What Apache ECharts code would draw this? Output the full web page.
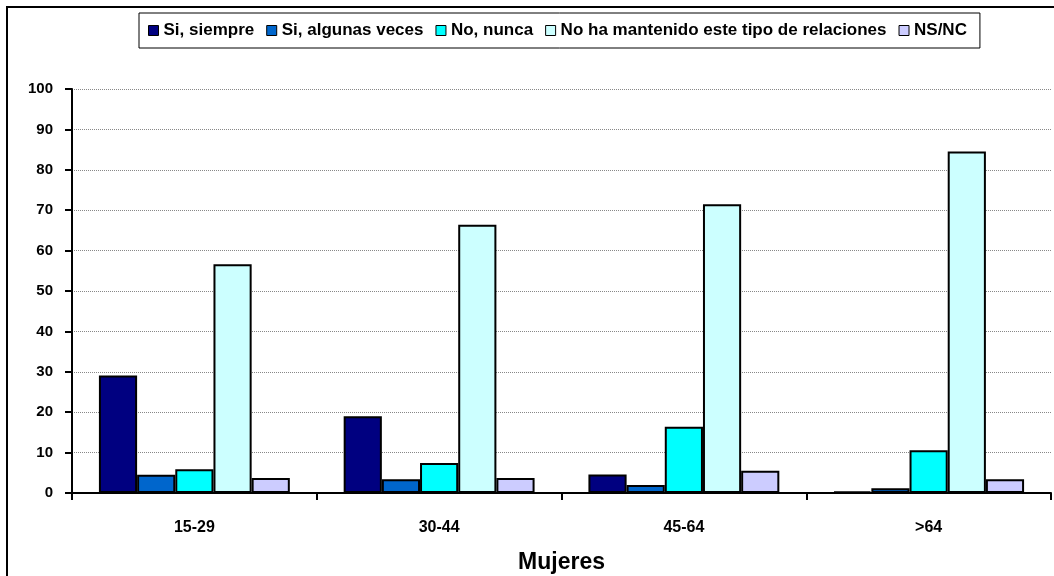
<!DOCTYPE html>
<html>
<head>
<meta charset="utf-8">
<style>
  html, body { margin: 0; padding: 0; background: #fff; }
  #chart { width: 1054px; height: 576px; }
</style>
<script src="https://cdn.jsdelivr.net/npm/echarts@6/dist/echarts.min.js"></script>
</head>
<body>
<div id="chart"></div>
<script>
// Age groups on the category axis
const categories = ['15-29', '30-44', '45-64', '>64'];

// Percentages per answer
const siSiempre = [29.1, 19.0, 4.6, 0.4];
const siAlgunasVeces = [4.5, 3.4, 2.0, 1.2];
const noNunca = [5.9, 7.4, 16.4, 10.6];
const noHaMantenido = [56.6, 66.4, 71.5, 84.5];
const nsnc = [3.7, 3.7, 5.5, 3.4];

const seriesNames = ['Si, siempre', 'Si, algunas veces', 'No, nunca',
  'No ha mantenido este tipo de relaciones', 'NS/NC'];
const seriesData = [siSiempre, siAlgunasVeces, noNunca, noHaMantenido, nsnc];
const colors = ['#000080', '#0066CC', '#00FFFF', '#CCFFFF', '#CCCCFF'];

const yTicks = [0, 10, 20, 30, 40, 50, 60, 70, 80, 90, 100];

const FONT = '"Liberation Sans", Arial, sans-serif';

const chart = echarts.init(document.getElementById('chart'), null, { renderer: 'canvas' });

chart.setOption({
  animation: false,
  backgroundColor: '#ffffff',
  color: colors,
  graphic: [{
    type: 'rect',
    z: -10,
    shape: { x: 7, y: 7, width: 1200, height: 700 },
    style: { fill: 'none', stroke: '#000', lineWidth: 2 }
  }],
  legend: {
    left: 139,
    top: 13,
    padding: [9, 13, 9, 9],
    itemGap: 12,
    itemWidth: 10,
    itemHeight: 10,
    icon: 'rect',
    borderColor: '#000',
    borderWidth: 1,
    backgroundColor: '#fff',
    itemStyle: { borderColor: '#000', borderWidth: 1 },
    textStyle: { fontFamily: FONT, fontWeight: 'bold', fontSize: 17, color: '#000' },
    data: seriesNames
  },
  grid: { left: 72, right: 3, top: 89, bottom: 83, containLabel: false, outerBoundsMode: 'none' },
  xAxis: {
    type: 'category',
    data: categories,
    boundaryGap: true,
    name: 'Mujeres',
    nameLocation: 'middle',
    nameGap: 58,
    nameTextStyle: { fontFamily: FONT, fontWeight: 'bold', fontSize: 23, color: '#000' },
    axisLine: { lineStyle: { color: '#000', width: 2 } },
    axisTick: { show: true, alignWithLabel: false, length: 7, lineStyle: { color: '#000', width: 2 } },
    axisLabel: { fontFamily: FONT, fontWeight: 'bold', fontSize: 16, color: '#000', margin: 27 },
    splitLine: { show: false }
  },
  yAxis: {
    type: 'value',
    min: yTicks[0],
    max: yTicks[yTicks.length - 1],
    interval: 10,
    axisLine: { show: true, lineStyle: { color: '#000', width: 2 } },
    axisTick: { show: true, inside: false, length: 7, lineStyle: { color: '#000', width: 2 } },
    axisLabel: { fontFamily: FONT, fontWeight: 'bold', fontSize: 15, color: '#000', margin: 19 },
    splitLine: { show: true, lineStyle: { color: '#888', width: 1, type: [1, 1] } }
  },
  series: seriesNames.map((name, i) => ({
    name: name,
    type: 'bar',
    data: seriesData[i],
    barGap: '0%',
    barCategoryGap: '22%',
    itemStyle: { color: colors[i], borderColor: '#000', borderWidth: 2 }
  }))
});
</script>
</body>
</html>
